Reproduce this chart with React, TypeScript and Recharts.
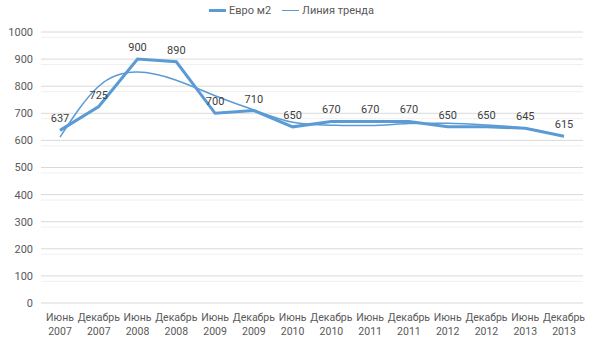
import { LineChart, Line, XAxis, YAxis, CartesianGrid, Legend, LabelList } from "recharts";

const months = ["Июнь", "Декабрь", "Июнь", "Декабрь", "Июнь", "Декабрь", "Июнь", "Декабрь", "Июнь", "Декабрь", "Июнь", "Декабрь", "Июнь", "Декабрь"];
const years = ["2007", "2007", "2008", "2008", "2009", "2009", "2010", "2010", "2011", "2011", "2012", "2012", "2013", "2013"];
const price = [637, 725, 900, 890, 700, 710, 650, 670, 670, 670, 650, 650, 645, 615];
const trend = [612, 800, 852, 822, 765, 712, 667, 656, 655, 662, 663, 657, 645, 614];
const yTicks = [0, 100, 200, 300, 400, 500, 600, 700, 800, 900, 1000];
const minorTicks = [20, 40, 60, 80, 120, 140, 160, 180, 220, 240, 260, 280, 320, 340, 360, 380, 420, 440, 460, 480, 520, 540, 560, 580, 620, 640, 660, 680, 720, 740, 760, 780, 820, 840, 860, 880, 920, 940, 960, 980];

const data = months.map((m, i) => ({
  name: `${m} ${years[i]}`,
  price: price[i],
  trend: trend[i],
}));

const FONT = "'Liberation Sans Narrow', 'Roboto', sans-serif";
const COLOR = "#5b9bd5";

const TwoLineTick = (props: any) => {
  const { x, y, payload } = props;
  const [m, yr] = String(payload.value).split(" ");
  return (
    <text x={x} y={y} textAnchor="middle" fontFamily={FONT} fontSize={10.5} fill="#595959">
      <tspan x={x} dy={10}>{m}</tspan>
      <tspan x={x} dy={14}>{yr}</tspan>
    </text>
  );
};

const LegendContent = () => (
  <div style={{ display: "flex", justifyContent: "center", alignItems: "center", fontFamily: FONT, fontSize: 11, color: "#595959" }}>
    <span style={{ display: "inline-block", width: 17, height: 3, background: COLOR, marginRight: 3 }} />
    <span style={{ marginRight: 11 }}>Евро м2</span>
    <span style={{ display: "inline-block", width: 17, height: 1.5, background: COLOR, marginRight: 3 }} />
    <span>Линия тренда</span>
  </div>
);

export default function App() {
  return (
    <div style={{ position: "absolute", left: 0, top: 0, background: "#fff" }}>
      <LineChart width={600} height={361} data={data} margin={{ top: 4, right: 17, bottom: 18, left: 0 }}>
        <CartesianGrid vertical={false} horizontalValues={minorTicks} stroke="#f0f0f0" />
        <CartesianGrid vertical={false} stroke="#d9d9d9" />
        <XAxis
          dataKey="name"
          interval={0}
          tickLine={false}
          axisLine={false}
          height={40}
          padding={{ left: 19, right: 19 }}
          tick={<TwoLineTick />}
        />
        <YAxis
          domain={[0, 1000]}
          ticks={yTicks}
          tickLine={false}
          axisLine={false}
          width={41}
          tick={{ fontFamily: FONT, fontSize: 11, fill: "#595959" }}
        />
        <Legend verticalAlign="top" height={28} content={<LegendContent />} />
        <Line
          dataKey="price"
          name="Евро м2"
          stroke={COLOR}
          strokeWidth={3}
          dot={false}
          type="linear"
          isAnimationActive={false}
        >
          <LabelList dataKey="price" position="top" offset={8} style={{ fontFamily: FONT, fontSize: 11, fill: "#404040" }} />
        </Line>
        <Line
          dataKey="trend"
          name="Линия тренда"
          stroke={COLOR}
          strokeWidth={1.5}
          dot={false}
          type="natural"
          isAnimationActive={false}
        />
      </LineChart>
    </div>
  );
}
